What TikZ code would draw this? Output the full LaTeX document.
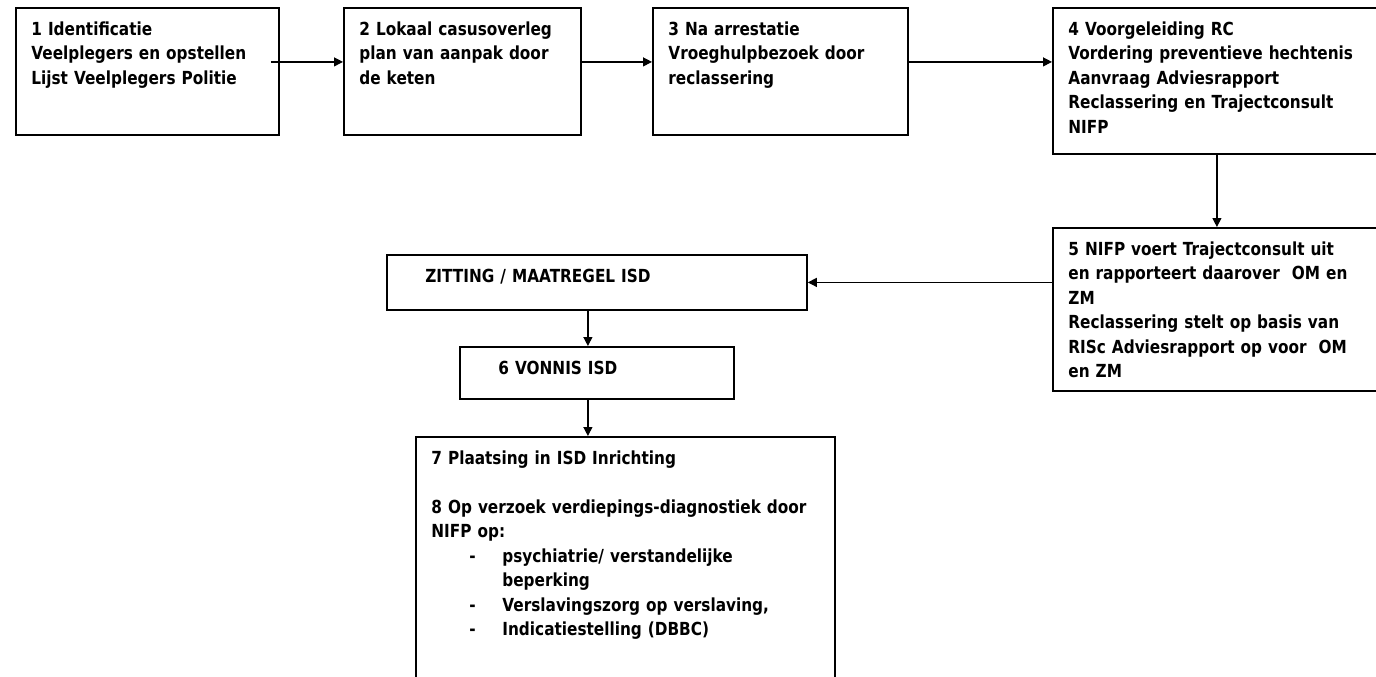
\documentclass[tikz,border=0pt]{standalone}
\usepackage{fontspec}
\setmainfont{DejaVu Sans}[FakeStretch=0.85]
\usetikzlibrary{arrows.meta}

\tikzset{
  boxframe/.style={draw=black, line width=0.9pt, anchor=north west, inner sep=0pt},
  boxtext/.style={anchor=base west, inner sep=0pt, align=left,
    font=\fontsize{9}{12.25}\selectfont\bfseries},
  flow/.style={line width=0.6pt, -{Triangle[length=4.5pt,width=4.5pt]}},
}

% name, x, y, width, height (pixels), text, [indent]
\NewDocumentCommand{\stepbox}{mmmmmmO{8pt}}{%
\node[boxframe, minimum width={#4*0.5pt}, minimum height={#5*0.5pt}] (#1) at (#2,#3) {};
\node[boxtext, text width={#4*0.5pt}] (#1t) at ([shift={(#7,-14pt)}]#1.north west) {#6};
}

\begin{document}
\begin{tikzpicture}[x=0.5pt,y=-0.5pt]
\clip (0,0) rectangle (1376,676);

% top row
\stepbox{b1}{15}{7}{263}{127}{1 Identificatie\\Veelplegers en opstellen\\Lijst Veelplegers Politie}
\stepbox{b2}{343}{7}{237}{127}{2 Lokaal casusoverleg\\plan van aanpak door\\de keten}
\stepbox{b3}{652}{7}{255}{127}{3 Na arrestatie\\Vroeghulpbezoek door\\reclassering}
\stepbox{b4}{1052}{7}{328}{146}{4 Voorgeleiding RC\\Vordering preventieve hechtenis\\Aanvraag Adviesrapport\\Reclassering en Trajectconsult\\NIFP}

% right column
\stepbox{b5}{1052}{227}{328}{163}{5 NIFP voert Trajectconsult uit\\en rapporteert daarover\ \ OM en\\ZM\\Reclassering stelt op basis van\\RISc Adviesrapport op voor\ \ OM\\en ZM}

% middle column
\stepbox{zit}{386}{254}{420}{55}{ZITTING / MAATREGEL ISD}[19.5pt]
\stepbox{b6}{459}{346}{274}{52}{6 VONNIS ISD}[19.5pt]
\stepbox{b7}{415}{436}{419}{260}{7 Plaatsing in ISD Inrichting\\[12.25pt]
8 Op verzoek verdiepings-diagnostiek door\\NIFP op:\\
\hspace*{19pt}\makebox[16.5pt][l]{-}psychiatrie/ verstandelijke\\
\hspace*{35.5pt}beperking\\
\hspace*{19pt}\makebox[16.5pt][l]{-}Verslavingszorg op verslaving,\\
\hspace*{19pt}\makebox[16.5pt][l]{-}Indicatiestelling (DBBC)}

% connectors
\coordinate (a3) at ([yshift=4.75pt]b3.east);
\draw[flow] ([xshift=-4.5pt,yshift=4.75pt]b1.east) -- ([yshift=4.75pt]b2.west);
\draw[flow] ([yshift=4.75pt]b2.east) -- ([yshift=4.75pt]b3.west);
\draw[flow] (a3) -- (a3 -| b4.west);
\draw[flow] (b4.south) -- (b5.north);
\draw[flow] (b5.west |- zit.east) -- (zit.east);
\draw[flow] ([xshift=-4.5pt]zit.south) -- ([xshift=-4.5pt]b6.north);
\draw[flow] ([xshift=-4.5pt]b6.south) -- ([xshift=-4.5pt]b6.south |- b7.north);
\end{tikzpicture}
\end{document}
